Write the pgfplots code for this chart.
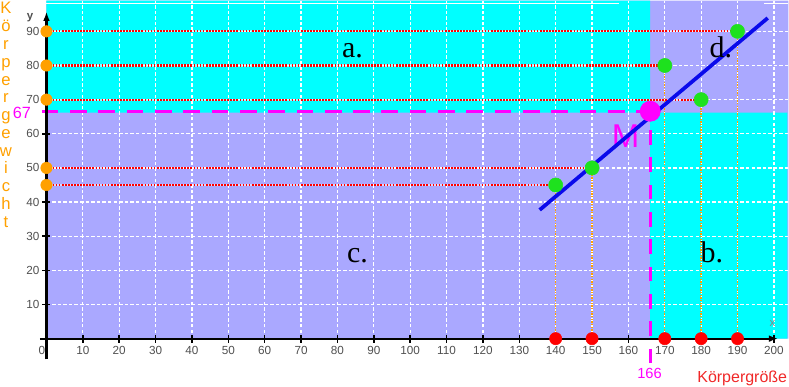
\documentclass[border=0pt]{standalone}
\usepackage{pgfplots}
\pgfplotsset{compat=1.18}
\usepackage{fontspec}
\setmainfont{Liberation Sans}
\newfontfamily\serifF{Liberation Serif}
\usetikzlibrary{arrows.meta}
\definecolor{lav}{RGB}{170,168,255}
\definecolor{cyn}{RGB}{0,255,255}
\definecolor{org}{RGB}{255,160,0}
\definecolor{ptgreen}{RGB}{30,225,30}
\definecolor{mag}{RGB}{255,0,255}
\definecolor{tickgray}{RGB}{80,80,80}
\definecolor{kred}{RGB}{240,40,40}
\definecolor{lineblue}{RGB}{10,10,235}
\begin{document}
\begin{tikzpicture}
\begin{axis}[scale only axis, width=591.75pt, height=289.5pt,
  xmin=-12.775, xmax=203.98, ymin=-13.96, ymax=99.0,
  hide axis, clip=false, unbounded coords=jump]
\path (rel axis cs:0,0) rectangle (rel axis cs:1,1);
% background regions
\addplot[fill=lav, draw=none] coordinates {(0,0) (203.98,0) (203.98,99) (0,99) (0,0)};
\addplot[fill=cyn, draw=none] coordinates {(0,66.2) (166,66.2) (166,99) (0,99) (0,66.2)};
\addplot[fill=cyn, draw=none] coordinates {(166,0) (203.7,0) (203.7,66.2) (166,66.2) (166,0)};
% thin white top line
\draw[white, line width=0.75pt] (axis cs:0,98.1) -- (axis cs:157.3,98.1);
\draw[white, line width=0.75pt] (axis cs:197.3,98.1) -- (axis cs:203.98,98.1);
% grid
\pgfplotsinvokeforeach{10,20,...,200}{
  \draw[white, line width=0.95pt, dash pattern=on 2.6pt off 1.6pt] (axis cs:#1,0) -- (axis cs:#1,99);
}
\pgfplotsinvokeforeach{10,20,...,90}{
  \draw[white, line width=0.95pt, dash pattern=on 2.6pt off 1.6pt] (axis cs:0,#1) -- (axis cs:203.98,#1);
}
% orange dotted verticals
\addplot[org, line width=1pt, dash pattern=on 1pt off 1pt] coordinates {
  (140,0) (140,45) (nan,nan) (150,0) (150,50) (nan,nan) (170,0) (170,80)
  (nan,nan) (180,0) (180,70) (nan,nan) (190,0) (190,90)};
% red dotted horizontals
\addplot[white, opacity=0.6, line width=1.6pt] coordinates {
  (0,45) (140,45) (nan,nan) (0,50) (150,50) (nan,nan) (0,80) (170,80)
  (nan,nan) (0,70) (180,70) (nan,nan) (0,90) (190,90)};
\addplot[red, line width=1.6pt, dash pattern=on 1.3pt off 1pt] coordinates {
  (0,45) (140,45) (nan,nan) (0,50) (150,50) (nan,nan) (0,80) (170,80)
  (nan,nan) (0,70) (180,70) (nan,nan) (0,90) (190,90)};
% magenta dashed lines to mean point
\addplot[mag, line width=2.5pt, dash pattern=on 12.5pt off 8.75pt] coordinates {(-1.3,66.6) (166,66.6)};
\addplot[mag, line width=2.5pt, dash pattern=on 11pt off 9.5pt] coordinates {(166,-7.2) (166,66.6)};
% axes
\draw[black, line width=1.9pt, -{Latex[length=7pt,width=5pt]}] (axis cs:0,-6.1) -- (axis cs:0,95.8);
\draw[black, line width=1.4pt, -{Latex[length=7pt,width=5pt]}] (axis cs:-1.8,0) -- (axis cs:201.2,0);
\pgfplotsinvokeforeach{10,20,...,200}{
  \draw[black, line width=1.1pt] (axis cs:#1,-1.17) -- (axis cs:#1,1.17);
}
\pgfplotsinvokeforeach{10,20,...,90}{
  \draw[black, line width=1.1pt] (axis cs:-1.1,#1) -- (axis cs:1.1,#1);
}
% points
\addplot[only marks, mark=*, mark size=5.3pt, mark options={draw=ptgreen, fill=ptgreen}] coordinates {
  (140,45) (150,50) (170,80) (180,70) (190,90)};
\addplot[only marks, mark=*, mark size=4.3pt, mark options={draw=org, fill=org}] coordinates {
  (0,45) (0,50) (0,70) (0,80) (0,90)};
\addplot[only marks, mark=*, mark size=4.6pt, mark options={draw=red, fill=red}] coordinates {
  (140,0) (150,0) (170,0) (180,0) (190,0)};
\addplot[only marks, mark=*, mark size=7.6pt, mark options={draw=mag, fill=mag}] coordinates {(166,66.6)};
\node[anchor=base west, inner sep=0pt, text=mag, font=\fontsize{24.75}{26}\selectfont] at (axis cs:155.36,55.98) {M};
% regression line
\addplot[lineblue, line width=2.8pt] coordinates {(135.6,37.7) (198.3,93.9)};
\end{axis}
\begin{scope}[shift={(0pt,289.5pt)}, x=0.75pt, y=-0.75pt]
  % tick labels
  \foreach \i in {1,...,20} {
    \pgfmathtruncatemacro\v{10*\i}
    \node[inner sep=0pt, text=tickgray, font=\fontsize{8.8}{10}\selectfont] at ({46.5+36.4*\i},349.7) {\v};
  }
  \node[inner sep=0pt, text=tickgray, font=\fontsize{8.8}{10}\selectfont] at (42,349.7) {0};
  \foreach \i in {1,...,9} {
    \pgfmathtruncatemacro\v{10*\i}
    \node[anchor=east, inner sep=0pt, text=tickgray, font=\fontsize{8.8}{10}\selectfont] at (39.8,{338.3-34.17*\i}) {\v};
  }
  \node[inner sep=0pt, text=tickgray, font=\bfseries\fontsize{8.6}{10}\selectfont] at (30,17) {y};
  \node[inner sep=0pt, text=tickgray!70, font=\fontsize{8.6}{10}\selectfont] at (773,323) {x};
  % vertical axis title
  \foreach \l [count=\k from 0] in {K,ö,r,p,e,r,g,e,w,i,c,h,t} {
    \node[anchor=base, inner sep=0pt, text=org, font=\fontsize{12.5}{14}\selectfont] at (6,{13.3+17.8*\k}) {\l};
  }
  % magenta labels
  \node[anchor=base, inner sep=0pt, text=mag, font=\fontsize{12.2}{14}\selectfont] at (22,118.3) {67};
  \node[anchor=base, inner sep=0pt, text=mag, font=\fontsize{11}{13}\selectfont] at (650,377.7) {166};
  \node[anchor=base east, inner sep=0pt, text=kred, font=\fontsize{12}{14}\selectfont] at (788,381.7) {Körpergröße};
  % region labels
  \node[anchor=base west, inner sep=0pt, font=\serifF\fontsize{22.5}{24}\selectfont] at (342,57) {a.};
  \node[anchor=base west, inner sep=0pt, font=\serifF\fontsize{22.5}{24}\selectfont] at (701,262) {b.};
  \node[anchor=base west, inner sep=0pt, font=\serifF\fontsize{22.5}{24}\selectfont] at (347,262) {c.};
  \node[anchor=base west, inner sep=0pt, font=\serifF\fontsize{22.5}{24}\selectfont] at (710,57) {d.};
\end{scope}
\end{tikzpicture}
\end{document}
